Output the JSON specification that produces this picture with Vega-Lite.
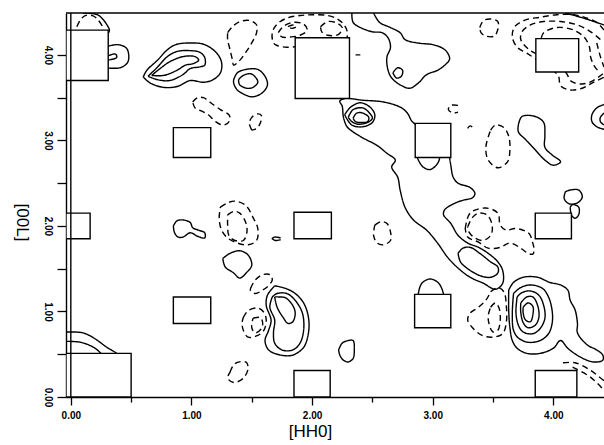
{
"$schema": "https://vega.github.io/schema/vega-lite/v6.json",
"width": 538, "height": 384,
"autosize": {"type": "none"},
"padding": {"left": 66, "top": 13, "right": 0, "bottom": 48},
"background": "white",
"config": {"view": {"stroke": null}},
"datasets": {
"boxes": [
{"x":-0.04,"x2":0.50,"y":0,"y2":0.51},
{"x":-0.04,"x2":0.31,"y":3.70,"y2":4.29},
{"x":-0.04,"x2":0.16,"y":1.85,"y2":2.15},
{"x":0.85,"x2":1.16,"y":0.86,"y2":1.17},
{"x":0.85,"x2":1.16,"y":2.80,"y2":3.15},
{"x":1.86,"x2":2.31,"y":3.49,"y2":4.20},
{"x":1.85,"x2":2.16,"y":1.85,"y2":2.16},
{"x":1.85,"x2":2.15,"y":0,"y2":0.31},
{"x":2.855,"x2":3.15,"y":2.80,"y2":3.20},
{"x":2.85,"x2":3.15,"y":0.81,"y2":1.20},
{"x":3.855,"x2":4.21,"y":3.80,"y2":4.19},
{"x":3.85,"x2":4.15,"y":1.85,"y2":2.15},
{"x":3.85,"x2":4.195,"y":0,"y2":0.31}
],
"frame": [{"x": 0, "y": 4.49}],
"contours": [
{"c":1,"t":"d","x":0.05,"y":4.33},{"c":1,"t":"d","x":0.08,"y":4.41},{"c":1,"t":"d","x":0.12,"y":4.46},{"c":1,"t":"d","x":0.18,"y":4.46},{"c":1,"t":"d","x":0.22,"y":4.42},{"c":1,"t":"d","x":0.26,"y":4.34},
{"c":2,"t":"s","x":0.10,"y":4.49},{"c":2,"t":"s","x":0.22,"y":4.47},{"c":2,"t":"s","x":0.27,"y":4.41},{"c":2,"t":"s","x":0.30,"y":4.35},{"c":2,"t":"s","x":0.32,"y":4.29},{"c":2,"t":"s","x":0.31,"y":4.25},
{"c":3,"t":"s","x":0.28,"y":4.09},{"c":3,"t":"s","x":0.39,"y":4.12},{"c":3,"t":"s","x":0.46,"y":4.08},{"c":3,"t":"s","x":0.48,"y":4.00},{"c":3,"t":"s","x":0.47,"y":3.91},{"c":3,"t":"s","x":0.41,"y":3.85},{"c":3,"t":"s","x":0.28,"y":3.85},
{"c":4,"t":"s","x":0.31,"y":3.99},{"c":4,"t":"s","x":0.37,"y":4.01},{"c":4,"t":"s","x":0.38,"y":3.97},{"c":4,"t":"s","x":0.31,"y":3.94},
{"c":5,"t":"s","x":0.60,"y":3.74},{"c":5,"t":"s","x":0.63,"y":3.82},{"c":5,"t":"s","x":0.72,"y":3.94},{"c":5,"t":"s","x":0.80,"y":4.06},{"c":5,"t":"s","x":0.87,"y":4.12},{"c":5,"t":"s","x":0.99,"y":4.14},{"c":5,"t":"s","x":1.11,"y":4.12},{"c":5,"t":"s","x":1.21,"y":4.02},{"c":5,"t":"s","x":1.25,"y":3.91},{"c":5,"t":"s","x":1.24,"y":3.79},{"c":5,"t":"s","x":1.18,"y":3.71},{"c":5,"t":"s","x":1.10,"y":3.68},{"c":5,"t":"s","x":0.99,"y":3.70},{"c":5,"t":"s","x":0.88,"y":3.63},{"c":5,"t":"s","x":0.77,"y":3.62},{"c":5,"t":"s","x":0.66,"y":3.67},{"c":5,"t":"s","x":0.60,"y":3.74},
{"c":6,"t":"s","x":0.64,"y":3.75},{"c":6,"t":"s","x":0.72,"y":3.86},{"c":6,"t":"s","x":0.80,"y":3.98},{"c":6,"t":"s","x":0.88,"y":4.04},{"c":6,"t":"s","x":0.99,"y":4.05},{"c":6,"t":"s","x":1.07,"y":4.03},{"c":6,"t":"s","x":1.11,"y":3.97},{"c":6,"t":"s","x":1.11,"y":3.88},{"c":6,"t":"s","x":1.07,"y":3.86},{"c":6,"t":"s","x":0.99,"y":3.84},{"c":6,"t":"s","x":0.93,"y":3.77},{"c":6,"t":"s","x":0.82,"y":3.70},{"c":6,"t":"s","x":0.72,"y":3.71},{"c":6,"t":"s","x":0.64,"y":3.75},
{"c":7,"t":"s","x":0.67,"y":3.76},{"c":7,"t":"s","x":0.74,"y":3.84},{"c":7,"t":"s","x":0.82,"y":3.92},{"c":7,"t":"s","x":0.93,"y":3.98},{"c":7,"t":"s","x":1.03,"y":3.98},{"c":7,"t":"s","x":1.06,"y":3.94},{"c":7,"t":"s","x":1.02,"y":3.90},{"c":7,"t":"s","x":0.95,"y":3.88},{"c":7,"t":"s","x":0.88,"y":3.82},{"c":7,"t":"s","x":0.77,"y":3.76},{"c":7,"t":"s","x":0.67,"y":3.76},
{"c":8,"t":"s","x":1.35,"y":3.71},{"c":8,"t":"s","x":1.38,"y":3.79},{"c":8,"t":"s","x":1.45,"y":3.83},{"c":8,"t":"s","x":1.55,"y":3.83},{"c":8,"t":"s","x":1.61,"y":3.75},{"c":8,"t":"s","x":1.63,"y":3.65},{"c":8,"t":"s","x":1.59,"y":3.56},{"c":8,"t":"s","x":1.51,"y":3.51},{"c":8,"t":"s","x":1.45,"y":3.53},{"c":8,"t":"s","x":1.38,"y":3.59},{"c":8,"t":"s","x":1.35,"y":3.67},{"c":8,"t":"s","x":1.35,"y":3.71},
{"c":9,"t":"s","x":1.39,"y":3.71},{"c":9,"t":"s","x":1.43,"y":3.76},{"c":9,"t":"s","x":1.49,"y":3.78},{"c":9,"t":"s","x":1.53,"y":3.74},{"c":9,"t":"s","x":1.55,"y":3.68},{"c":9,"t":"s","x":1.51,"y":3.62},{"c":9,"t":"s","x":1.46,"y":3.61},{"c":9,"t":"s","x":1.40,"y":3.65},{"c":9,"t":"s","x":1.39,"y":3.71},
{"c":10,"t":"d","x":1.30,"y":4.26},{"c":10,"t":"d","x":1.34,"y":4.33},{"c":10,"t":"d","x":1.40,"y":4.39},{"c":10,"t":"d","x":1.49,"y":4.40},{"c":10,"t":"d","x":1.54,"y":4.35},{"c":10,"t":"d","x":1.54,"y":4.26},{"c":10,"t":"d","x":1.50,"y":4.14},{"c":10,"t":"d","x":1.45,"y":4.03},{"c":10,"t":"d","x":1.39,"y":3.92},{"c":10,"t":"d","x":1.35,"y":3.88},{"c":10,"t":"d","x":1.34,"y":3.94},{"c":10,"t":"d","x":1.32,"y":4.06},{"c":10,"t":"d","x":1.30,"y":4.18},{"c":10,"t":"d","x":1.30,"y":4.26},
{"c":11,"t":"d","x":1.01,"y":3.45},{"c":11,"t":"d","x":1.05,"y":3.50},{"c":11,"t":"d","x":1.10,"y":3.50},{"c":11,"t":"d","x":1.16,"y":3.44},{"c":11,"t":"d","x":1.24,"y":3.36},{"c":11,"t":"d","x":1.31,"y":3.30},{"c":11,"t":"d","x":1.32,"y":3.26},{"c":11,"t":"d","x":1.30,"y":3.20},{"c":11,"t":"d","x":1.26,"y":3.18},{"c":11,"t":"d","x":1.20,"y":3.22},{"c":11,"t":"d","x":1.14,"y":3.30},{"c":11,"t":"d","x":1.09,"y":3.34},{"c":11,"t":"d","x":1.03,"y":3.38},{"c":11,"t":"d","x":1.01,"y":3.45},
{"c":12,"t":"d","x":1.50,"y":3.12},{"c":12,"t":"d","x":1.48,"y":3.20},{"c":12,"t":"d","x":1.50,"y":3.27},{"c":12,"t":"d","x":1.55,"y":3.31},{"c":12,"t":"d","x":1.58,"y":3.29},{"c":12,"t":"d","x":1.57,"y":3.20},{"c":12,"t":"d","x":1.54,"y":3.14},{"c":12,"t":"d","x":1.50,"y":3.12},
{"c":13,"t":"d","x":1.89,"y":4.10},{"c":13,"t":"d","x":1.79,"y":4.09},{"c":13,"t":"d","x":1.71,"y":4.11},{"c":13,"t":"d","x":1.68,"y":4.14},{"c":13,"t":"d","x":1.67,"y":4.26},{"c":13,"t":"d","x":1.71,"y":4.36},{"c":13,"t":"d","x":1.79,"y":4.43},{"c":13,"t":"d","x":1.90,"y":4.46},{"c":13,"t":"d","x":2.01,"y":4.47},{"c":13,"t":"d","x":2.13,"y":4.46},{"c":13,"t":"d","x":2.21,"y":4.42},{"c":13,"t":"d","x":2.26,"y":4.36},{"c":13,"t":"d","x":2.29,"y":4.28},{"c":13,"t":"d","x":2.29,"y":4.18},
{"c":14,"t":"d","x":1.72,"y":4.26},{"c":14,"t":"d","x":1.76,"y":4.33},{"c":14,"t":"d","x":1.84,"y":4.38},{"c":14,"t":"d","x":1.93,"y":4.36},{"c":14,"t":"d","x":1.96,"y":4.29},{"c":14,"t":"d","x":1.90,"y":4.23},{"c":14,"t":"d","x":1.82,"y":4.21},{"c":14,"t":"d","x":1.75,"y":4.21},{"c":14,"t":"d","x":1.72,"y":4.26},
{"c":15,"t":"d","x":1.80,"y":4.33},{"c":15,"t":"d","x":1.84,"y":4.35},{"c":15,"t":"d","x":1.87,"y":4.33},{"c":15,"t":"d","x":1.83,"y":4.31},{"c":15,"t":"d","x":1.80,"y":4.33},
{"c":16,"t":"d","x":2.07,"y":4.33},{"c":16,"t":"d","x":2.13,"y":4.39},{"c":16,"t":"d","x":2.21,"y":4.37},{"c":16,"t":"d","x":2.25,"y":4.32},{"c":16,"t":"d","x":2.22,"y":4.24},{"c":16,"t":"d","x":2.13,"y":4.23},{"c":16,"t":"d","x":2.08,"y":4.27},{"c":16,"t":"d","x":2.07,"y":4.33},
{"c":17,"t":"s","x":2.36,"y":4.00},{"c":17,"t":"s","x":2.40,"y":4.00},
{"c":18,"t":"s","x":2.33,"y":4.49},{"c":18,"t":"s","x":2.34,"y":4.38},{"c":18,"t":"s","x":2.40,"y":4.32},{"c":18,"t":"s","x":2.50,"y":4.27},{"c":18,"t":"s","x":2.58,"y":4.26},{"c":18,"t":"s","x":2.63,"y":4.20},{"c":18,"t":"s","x":2.65,"y":4.09},{"c":18,"t":"s","x":2.62,"y":3.97},{"c":18,"t":"s","x":2.63,"y":3.82},{"c":18,"t":"s","x":2.66,"y":3.73},{"c":18,"t":"s","x":2.73,"y":3.65},{"c":18,"t":"s","x":2.81,"y":3.61},{"c":18,"t":"s","x":2.88,"y":3.67},{"c":18,"t":"s","x":2.95,"y":3.77},{"c":18,"t":"s","x":3.04,"y":3.82},{"c":18,"t":"s","x":3.10,"y":3.88},{"c":18,"t":"s","x":3.14,"y":3.95},{"c":18,"t":"s","x":3.12,"y":4.03},{"c":18,"t":"s","x":3.08,"y":4.08},{"c":18,"t":"s","x":3.00,"y":4.12},{"c":18,"t":"s","x":2.87,"y":4.14},{"c":18,"t":"s","x":2.77,"y":4.18},{"c":18,"t":"s","x":2.73,"y":4.26},{"c":18,"t":"s","x":2.65,"y":4.32},{"c":18,"t":"s","x":2.56,"y":4.38},{"c":18,"t":"s","x":2.51,"y":4.49},
{"c":19,"t":"s","x":2.67,"y":3.79},{"c":19,"t":"s","x":2.71,"y":3.85},{"c":19,"t":"s","x":2.75,"y":3.82},{"c":19,"t":"s","x":2.74,"y":3.75},{"c":19,"t":"s","x":2.70,"y":3.73},{"c":19,"t":"s","x":2.67,"y":3.79},
{"c":20,"t":"d","x":3.39,"y":4.32},{"c":20,"t":"d","x":3.42,"y":4.40},{"c":20,"t":"d","x":3.48,"y":4.42},{"c":20,"t":"d","x":3.54,"y":4.39},{"c":20,"t":"d","x":3.54,"y":4.30},{"c":20,"t":"d","x":3.51,"y":4.22},{"c":20,"t":"d","x":3.44,"y":4.22},{"c":20,"t":"d","x":3.40,"y":4.26},{"c":20,"t":"d","x":3.39,"y":4.32},
{"c":21,"t":"d","x":4.42,"y":4.29},{"c":21,"t":"d","x":4.36,"y":4.38},{"c":21,"t":"d","x":4.28,"y":4.43},{"c":21,"t":"d","x":4.17,"y":4.47},{"c":21,"t":"d","x":4.03,"y":4.47},{"c":21,"t":"d","x":3.89,"y":4.44},{"c":21,"t":"d","x":3.77,"y":4.41},{"c":21,"t":"d","x":3.68,"y":4.33},{"c":21,"t":"d","x":3.66,"y":4.21},{"c":21,"t":"d","x":3.70,"y":4.09},{"c":21,"t":"d","x":3.78,"y":4.02},{"c":21,"t":"d","x":3.93,"y":3.88},{"c":21,"t":"d","x":4.04,"y":3.76},{"c":21,"t":"d","x":4.06,"y":3.64},{"c":21,"t":"d","x":4.14,"y":3.59},{"c":21,"t":"d","x":4.24,"y":3.61},{"c":21,"t":"d","x":4.32,"y":3.67},{"c":21,"t":"d","x":4.42,"y":3.74},
{"c":22,"t":"d","x":4.39,"y":4.18},{"c":22,"t":"d","x":4.31,"y":4.27},{"c":22,"t":"d","x":4.20,"y":4.35},{"c":22,"t":"d","x":4.06,"y":4.39},{"c":22,"t":"d","x":3.92,"y":4.39},{"c":22,"t":"d","x":3.81,"y":4.35},{"c":22,"t":"d","x":3.74,"y":4.27},{"c":22,"t":"d","x":3.73,"y":4.18},{"c":22,"t":"d","x":3.80,"y":4.06},{"c":22,"t":"d","x":3.95,"y":3.95},{"c":22,"t":"d","x":4.10,"y":3.80},{"c":22,"t":"d","x":4.15,"y":3.69},{"c":22,"t":"d","x":4.24,"y":3.66},{"c":22,"t":"d","x":4.33,"y":3.70},{"c":22,"t":"d","x":4.42,"y":3.79},
{"c":23,"t":"d","x":3.90,"y":4.20},{"c":23,"t":"d","x":3.92,"y":4.26},{"c":23,"t":"d","x":4.03,"y":4.32},{"c":23,"t":"d","x":4.17,"y":4.29},{"c":23,"t":"d","x":4.26,"y":4.20},{"c":23,"t":"d","x":4.30,"y":4.09},{"c":23,"t":"d","x":4.31,"y":3.97},{"c":23,"t":"d","x":4.34,"y":3.87},{"c":23,"t":"d","x":4.38,"y":3.80},
{"c":24,"t":"d","x":4.36,"y":4.14},{"c":24,"t":"d","x":4.39,"y":3.98},{"c":24,"t":"d","x":4.42,"y":3.86},
{"c":25,"t":"s","x":4.10,"y":4.49},{"c":25,"t":"s","x":4.25,"y":4.43},{"c":25,"t":"s","x":4.42,"y":4.35},
{"c":26,"t":"s","x":4.42,"y":3.42},{"c":26,"t":"s","x":4.36,"y":3.38},{"c":26,"t":"s","x":4.32,"y":3.30},{"c":26,"t":"s","x":4.32,"y":3.22},{"c":26,"t":"s","x":4.36,"y":3.16},{"c":26,"t":"s","x":4.42,"y":3.13},
{"c":27,"t":"s","x":4.42,"y":3.32},{"c":27,"t":"s","x":4.39,"y":3.27},{"c":27,"t":"s","x":4.39,"y":3.22},{"c":27,"t":"s","x":4.42,"y":3.18},
{"c":28,"t":"d","x":3.21,"y":3.41},{"c":28,"t":"d","x":3.15,"y":3.41},{"c":28,"t":"d","x":3.13,"y":3.36},{"c":28,"t":"d","x":3.17,"y":3.32},{"c":28,"t":"d","x":3.21,"y":3.33},
{"c":29,"t":"d","x":3.29,"y":3.14},{"c":29,"t":"d","x":3.31,"y":3.17},{"c":29,"t":"d","x":3.34,"y":3.14},
{"c":30,"t":"d","x":3.48,"y":3.12},{"c":30,"t":"d","x":3.52,"y":3.18},{"c":30,"t":"d","x":3.59,"y":3.15},{"c":30,"t":"d","x":3.63,"y":3.05},{"c":30,"t":"d","x":3.64,"y":2.89},{"c":30,"t":"d","x":3.62,"y":2.75},{"c":30,"t":"d","x":3.54,"y":2.68},{"c":30,"t":"d","x":3.46,"y":2.77},{"c":30,"t":"d","x":3.44,"y":2.91},{"c":30,"t":"d","x":3.46,"y":3.04},{"c":30,"t":"d","x":3.48,"y":3.12},
{"c":31,"t":"s","x":3.71,"y":3.18},{"c":31,"t":"s","x":3.74,"y":3.28},{"c":31,"t":"s","x":3.85,"y":3.28},{"c":31,"t":"s","x":3.92,"y":3.21},{"c":31,"t":"s","x":3.93,"y":3.06},{"c":31,"t":"s","x":3.93,"y":2.92},{"c":31,"t":"s","x":3.99,"y":2.83},{"c":31,"t":"s","x":4.06,"y":2.75},{"c":31,"t":"s","x":4.00,"y":2.71},{"c":31,"t":"s","x":3.93,"y":2.77},{"c":31,"t":"s","x":3.85,"y":2.89},{"c":31,"t":"s","x":3.77,"y":3.01},{"c":31,"t":"s","x":3.71,"y":3.10},{"c":31,"t":"s","x":3.71,"y":3.18},
{"c":32,"t":"s","x":4.10,"y":2.40},{"c":32,"t":"s","x":4.14,"y":2.42},{"c":32,"t":"s","x":4.21,"y":2.42},{"c":32,"t":"s","x":4.24,"y":2.34},{"c":32,"t":"s","x":4.20,"y":2.27},{"c":32,"t":"s","x":4.13,"y":2.26},{"c":32,"t":"s","x":4.09,"y":2.32},{"c":32,"t":"s","x":4.10,"y":2.40},
{"c":33,"t":"s","x":4.14,"y":2.22},{"c":33,"t":"s","x":4.16,"y":2.25},{"c":33,"t":"s","x":4.21,"y":2.22},{"c":33,"t":"s","x":4.21,"y":2.13},{"c":33,"t":"s","x":4.18,"y":2.09},{"c":33,"t":"s","x":4.15,"y":2.13},{"c":33,"t":"s","x":4.14,"y":2.22},
{"c":34,"t":"s","x":2.90,"y":3.15},{"c":34,"t":"s","x":2.83,"y":3.22},{"c":34,"t":"s","x":2.79,"y":3.32},{"c":34,"t":"s","x":2.73,"y":3.39},{"c":34,"t":"s","x":2.59,"y":3.45},{"c":34,"t":"s","x":2.42,"y":3.47},{"c":34,"t":"s","x":2.27,"y":3.49},{"c":34,"t":"s","x":2.23,"y":3.46},{"c":34,"t":"s","x":2.25,"y":3.40},{"c":34,"t":"s","x":2.26,"y":3.27},{"c":34,"t":"s","x":2.29,"y":3.16},{"c":34,"t":"s","x":2.34,"y":3.10},{"c":34,"t":"s","x":2.42,"y":3.03},{"c":34,"t":"s","x":2.54,"y":2.94},{"c":34,"t":"s","x":2.62,"y":2.85},{"c":34,"t":"s","x":2.69,"y":2.77},{"c":34,"t":"s","x":2.66,"y":2.69},{"c":34,"t":"s","x":2.71,"y":2.57},{"c":34,"t":"s","x":2.73,"y":2.42},{"c":34,"t":"s","x":2.77,"y":2.22},{"c":34,"t":"s","x":2.84,"y":2.07},{"c":34,"t":"s","x":2.95,"y":1.95},{"c":34,"t":"s","x":3.04,"y":1.80},{"c":34,"t":"s","x":3.12,"y":1.64},{"c":34,"t":"s","x":3.20,"y":1.52},{"c":34,"t":"s","x":3.31,"y":1.40},{"c":34,"t":"s","x":3.42,"y":1.33},{"c":34,"t":"s","x":3.52,"y":1.26},{"c":34,"t":"s","x":3.58,"y":1.33},{"c":34,"t":"s","x":3.58,"y":1.48},{"c":34,"t":"s","x":3.54,"y":1.58},{"c":34,"t":"s","x":3.46,"y":1.68},{"c":34,"t":"s","x":3.38,"y":1.75},{"c":34,"t":"s","x":3.29,"y":1.80},{"c":34,"t":"s","x":3.21,"y":1.89},{"c":34,"t":"s","x":3.15,"y":2.03},{"c":34,"t":"s","x":3.09,"y":2.13},{"c":34,"t":"s","x":3.10,"y":2.19},{"c":34,"t":"s","x":3.19,"y":2.27},{"c":34,"t":"s","x":3.25,"y":2.30},{"c":34,"t":"s","x":3.33,"y":2.33},{"c":34,"t":"s","x":3.35,"y":2.38},{"c":34,"t":"s","x":3.31,"y":2.45},{"c":34,"t":"s","x":3.21,"y":2.50},{"c":34,"t":"s","x":3.17,"y":2.57},{"c":34,"t":"s","x":3.15,"y":2.71},{"c":34,"t":"s","x":3.13,"y":2.89},
{"c":35,"t":"s","x":2.27,"y":3.30},{"c":35,"t":"s","x":2.32,"y":3.39},{"c":35,"t":"s","x":2.40,"y":3.44},{"c":35,"t":"s","x":2.48,"y":3.39},{"c":35,"t":"s","x":2.52,"y":3.30},{"c":35,"t":"s","x":2.50,"y":3.21},{"c":35,"t":"s","x":2.42,"y":3.16},{"c":35,"t":"s","x":2.33,"y":3.18},{"c":35,"t":"s","x":2.27,"y":3.30},
{"c":36,"t":"s","x":2.30,"y":3.27},{"c":36,"t":"s","x":2.34,"y":3.36},{"c":36,"t":"s","x":2.42,"y":3.38},{"c":36,"t":"s","x":2.47,"y":3.33},{"c":36,"t":"s","x":2.50,"y":3.26},{"c":36,"t":"s","x":2.46,"y":3.21},{"c":36,"t":"s","x":2.38,"y":3.19},{"c":36,"t":"s","x":2.33,"y":3.22},{"c":36,"t":"s","x":2.30,"y":3.27},
{"c":37,"t":"s","x":2.34,"y":3.26},{"c":37,"t":"s","x":2.37,"y":3.32},{"c":37,"t":"s","x":2.42,"y":3.32},{"c":37,"t":"s","x":2.47,"y":3.27},{"c":37,"t":"s","x":2.46,"y":3.22},{"c":37,"t":"s","x":2.40,"y":3.21},{"c":37,"t":"s","x":2.36,"y":3.22},{"c":37,"t":"s","x":2.34,"y":3.26},
{"c":38,"t":"s","x":2.87,"y":2.85},{"c":38,"t":"s","x":2.87,"y":2.81},{"c":38,"t":"s","x":2.92,"y":2.69},{"c":38,"t":"s","x":2.98,"y":2.66},{"c":38,"t":"s","x":3.04,"y":2.73},{"c":38,"t":"s","x":3.06,"y":2.81},{"c":38,"t":"s","x":3.06,"y":2.85},
{"c":39,"t":"s","x":2.88,"y":1.15},{"c":39,"t":"s","x":2.88,"y":1.20},{"c":39,"t":"s","x":2.91,"y":1.33},{"c":39,"t":"s","x":2.98,"y":1.38},{"c":39,"t":"s","x":3.05,"y":1.33},{"c":39,"t":"s","x":3.09,"y":1.20},{"c":39,"t":"s","x":3.09,"y":1.15},
{"c":40,"t":"s","x":3.21,"y":1.68},{"c":40,"t":"s","x":3.25,"y":1.74},{"c":40,"t":"s","x":3.31,"y":1.75},{"c":40,"t":"s","x":3.39,"y":1.68},{"c":40,"t":"s","x":3.48,"y":1.58},{"c":40,"t":"s","x":3.54,"y":1.52},{"c":40,"t":"s","x":3.54,"y":1.45},{"c":40,"t":"s","x":3.48,"y":1.40},{"c":40,"t":"s","x":3.39,"y":1.42},{"c":40,"t":"s","x":3.29,"y":1.50},{"c":40,"t":"s","x":3.23,"y":1.58},{"c":40,"t":"s","x":3.21,"y":1.68},
{"c":41,"t":"d","x":3.27,"y":1.97},{"c":41,"t":"d","x":3.31,"y":2.15},{"c":41,"t":"d","x":3.44,"y":2.21},{"c":41,"t":"d","x":3.54,"y":2.15},{"c":41,"t":"d","x":3.56,"y":2.01},{"c":41,"t":"d","x":3.61,"y":1.95},{"c":41,"t":"d","x":3.68,"y":1.97},{"c":41,"t":"d","x":3.75,"y":1.95},{"c":41,"t":"d","x":3.80,"y":1.91},{"c":41,"t":"d","x":3.83,"y":1.80},{"c":41,"t":"d","x":3.84,"y":1.72},{"c":41,"t":"d","x":3.83,"y":1.67},{"c":41,"t":"d","x":3.79,"y":1.68},{"c":41,"t":"d","x":3.73,"y":1.74},{"c":41,"t":"d","x":3.64,"y":1.80},{"c":41,"t":"d","x":3.56,"y":1.75},{"c":41,"t":"d","x":3.46,"y":1.74},{"c":41,"t":"d","x":3.38,"y":1.81},{"c":41,"t":"d","x":3.29,"y":1.87},{"c":41,"t":"d","x":3.27,"y":1.97},
{"c":42,"t":"d","x":3.29,"y":1.99},{"c":42,"t":"d","x":3.33,"y":2.10},{"c":42,"t":"d","x":3.38,"y":2.15},{"c":42,"t":"d","x":3.45,"y":2.13},{"c":42,"t":"d","x":3.49,"y":2.03},{"c":42,"t":"d","x":3.49,"y":1.92},{"c":42,"t":"d","x":3.46,"y":1.86},{"c":42,"t":"d","x":3.41,"y":1.83},{"c":42,"t":"d","x":3.34,"y":1.87},{"c":42,"t":"d","x":3.30,"y":1.93},{"c":42,"t":"d","x":3.29,"y":1.99},
{"c":43,"t":"s","x":3.63,"y":1.25},{"c":43,"t":"s","x":3.67,"y":1.34},{"c":43,"t":"s","x":3.75,"y":1.40},{"c":43,"t":"s","x":3.87,"y":1.40},{"c":43,"t":"s","x":3.97,"y":1.34},{"c":43,"t":"s","x":4.06,"y":1.31},{"c":43,"t":"s","x":4.12,"y":1.25},{"c":43,"t":"s","x":4.14,"y":1.13},{"c":43,"t":"s","x":4.18,"y":1.02},{"c":43,"t":"s","x":4.20,"y":0.86},{"c":43,"t":"s","x":4.20,"y":0.75},{"c":43,"t":"s","x":4.28,"y":0.61},{"c":43,"t":"s","x":4.36,"y":0.55},{"c":43,"t":"s","x":4.41,"y":0.49},{"c":43,"t":"s","x":4.41,"y":0.43},{"c":43,"t":"s","x":4.33,"y":0.41},{"c":43,"t":"s","x":4.22,"y":0.47},{"c":43,"t":"s","x":4.12,"y":0.57},{"c":43,"t":"s","x":4.06,"y":0.66},{"c":43,"t":"s","x":4.00,"y":0.57},{"c":43,"t":"s","x":3.89,"y":0.51},{"c":43,"t":"s","x":3.78,"y":0.51},{"c":43,"t":"s","x":3.70,"y":0.57},{"c":43,"t":"s","x":3.66,"y":0.66},{"c":43,"t":"s","x":3.64,"y":0.81},{"c":43,"t":"s","x":3.63,"y":1.01},{"c":43,"t":"s","x":3.63,"y":1.25},
{"c":44,"t":"s","x":3.67,"y":1.21},{"c":44,"t":"s","x":3.73,"y":1.28},{"c":44,"t":"s","x":3.81,"y":1.31},{"c":44,"t":"s","x":3.91,"y":1.27},{"c":44,"t":"s","x":3.96,"y":1.17},{"c":44,"t":"s","x":3.99,"y":1.01},{"c":44,"t":"s","x":3.99,"y":0.86},{"c":44,"t":"s","x":3.96,"y":0.74},{"c":44,"t":"s","x":3.89,"y":0.66},{"c":44,"t":"s","x":3.79,"y":0.64},{"c":44,"t":"s","x":3.71,"y":0.69},{"c":44,"t":"s","x":3.67,"y":0.78},{"c":44,"t":"s","x":3.66,"y":0.98},{"c":44,"t":"s","x":3.67,"y":1.21},
{"c":45,"t":"s","x":3.70,"y":1.17},{"c":45,"t":"s","x":3.74,"y":1.22},{"c":45,"t":"s","x":3.81,"y":1.24},{"c":45,"t":"s","x":3.88,"y":1.19},{"c":45,"t":"s","x":3.92,"y":1.07},{"c":45,"t":"s","x":3.93,"y":0.92},{"c":45,"t":"s","x":3.89,"y":0.80},{"c":45,"t":"s","x":3.83,"y":0.74},{"c":45,"t":"s","x":3.75,"y":0.76},{"c":45,"t":"s","x":3.71,"y":0.84},{"c":45,"t":"s","x":3.69,"y":0.99},{"c":45,"t":"s","x":3.70,"y":1.17},
{"c":46,"t":"s","x":3.73,"y":1.10},{"c":46,"t":"s","x":3.78,"y":1.17},{"c":46,"t":"s","x":3.83,"y":1.17},{"c":46,"t":"s","x":3.87,"y":1.07},{"c":46,"t":"s","x":3.88,"y":0.93},{"c":46,"t":"s","x":3.85,"y":0.84},{"c":46,"t":"s","x":3.79,"y":0.81},{"c":46,"t":"s","x":3.75,"y":0.87},{"c":46,"t":"s","x":3.73,"y":0.99},{"c":46,"t":"s","x":3.73,"y":1.10},
{"c":47,"t":"s","x":3.75,"y":1.05},{"c":47,"t":"s","x":3.79,"y":1.10},{"c":47,"t":"s","x":3.83,"y":1.06},{"c":47,"t":"s","x":3.83,"y":0.96},{"c":47,"t":"s","x":3.81,"y":0.88},{"c":47,"t":"s","x":3.77,"y":0.90},{"c":47,"t":"s","x":3.75,"y":0.98},{"c":47,"t":"s","x":3.75,"y":1.05},
{"c":48,"t":"d","x":3.48,"y":1.23},{"c":48,"t":"d","x":3.54,"y":1.28},{"c":48,"t":"d","x":3.59,"y":1.23},{"c":48,"t":"d","x":3.61,"y":1.07},{"c":48,"t":"d","x":3.61,"y":0.87},{"c":48,"t":"d","x":3.58,"y":0.74},{"c":48,"t":"d","x":3.50,"y":0.70},{"c":48,"t":"d","x":3.41,"y":0.72},{"c":48,"t":"d","x":3.33,"y":0.81},{"c":48,"t":"d","x":3.29,"y":0.90},{"c":48,"t":"d","x":3.31,"y":0.98},{"c":48,"t":"d","x":3.38,"y":1.05},{"c":48,"t":"d","x":3.44,"y":1.13},{"c":48,"t":"d","x":3.48,"y":1.23},
{"c":49,"t":"d","x":3.48,"y":1.05},{"c":49,"t":"d","x":3.52,"y":1.10},{"c":49,"t":"d","x":3.55,"y":1.04},{"c":49,"t":"d","x":3.56,"y":0.90},{"c":49,"t":"d","x":3.54,"y":0.78},{"c":49,"t":"d","x":3.50,"y":0.76},{"c":49,"t":"d","x":3.47,"y":0.84},{"c":49,"t":"d","x":3.46,"y":0.95},{"c":49,"t":"d","x":3.48,"y":1.05},
{"c":50,"t":"d","x":4.08,"y":0.40},{"c":50,"t":"d","x":4.18,"y":0.40},{"c":50,"t":"d","x":4.31,"y":0.31},{"c":50,"t":"d","x":4.42,"y":0.19},
{"c":51,"t":"d","x":4.16,"y":0.35},{"c":51,"t":"d","x":4.31,"y":0.23},{"c":51,"t":"d","x":4.42,"y":0.08},
{"c":52,"t":"s","x":1.69,"y":1.30},{"c":52,"t":"s","x":1.63,"y":1.19},{"c":52,"t":"s","x":1.62,"y":1.07},{"c":52,"t":"s","x":1.66,"y":0.90},{"c":52,"t":"s","x":1.64,"y":0.78},{"c":52,"t":"s","x":1.61,"y":0.66},{"c":52,"t":"s","x":1.64,"y":0.55},{"c":52,"t":"s","x":1.74,"y":0.49},{"c":52,"t":"s","x":1.84,"y":0.49},{"c":52,"t":"s","x":1.93,"y":0.58},{"c":52,"t":"s","x":1.97,"y":0.75},{"c":52,"t":"s","x":1.97,"y":0.93},{"c":52,"t":"s","x":1.93,"y":1.10},{"c":52,"t":"s","x":1.86,"y":1.21},{"c":52,"t":"s","x":1.78,"y":1.27},{"c":52,"t":"s","x":1.69,"y":1.30},
{"c":53,"t":"s","x":1.67,"y":1.17},{"c":53,"t":"s","x":1.65,"y":1.05},{"c":53,"t":"s","x":1.69,"y":0.90},{"c":53,"t":"s","x":1.68,"y":0.75},{"c":53,"t":"s","x":1.69,"y":0.63},{"c":53,"t":"s","x":1.75,"y":0.55},{"c":53,"t":"s","x":1.84,"y":0.55},{"c":53,"t":"s","x":1.90,"y":0.63},{"c":53,"t":"s","x":1.93,"y":0.78},{"c":53,"t":"s","x":1.92,"y":0.98},{"c":53,"t":"s","x":1.86,"y":1.13},{"c":53,"t":"s","x":1.79,"y":1.21},{"c":53,"t":"s","x":1.71,"y":1.21},{"c":53,"t":"s","x":1.67,"y":1.17},
{"c":54,"t":"s","x":1.69,"y":1.17},{"c":54,"t":"s","x":1.71,"y":1.05},{"c":54,"t":"s","x":1.76,"y":0.93},{"c":54,"t":"s","x":1.80,"y":0.86},{"c":54,"t":"s","x":1.84,"y":0.88},{"c":54,"t":"s","x":1.86,"y":0.98},{"c":54,"t":"s","x":1.84,"y":1.07},{"c":54,"t":"s","x":1.78,"y":1.16},{"c":54,"t":"s","x":1.72,"y":1.17},{"c":54,"t":"s","x":1.69,"y":1.17},
{"c":55,"t":"d","x":1.43,"y":0.93},{"c":55,"t":"d","x":1.47,"y":1.01},{"c":55,"t":"d","x":1.55,"y":1.04},{"c":55,"t":"d","x":1.60,"y":0.99},{"c":55,"t":"d","x":1.62,"y":0.90},{"c":55,"t":"d","x":1.60,"y":0.78},{"c":55,"t":"d","x":1.55,"y":0.72},{"c":55,"t":"d","x":1.47,"y":0.70},{"c":55,"t":"d","x":1.43,"y":0.78},{"c":55,"t":"d","x":1.42,"y":0.87},{"c":55,"t":"d","x":1.43,"y":0.93},
{"c":56,"t":"d","x":1.51,"y":0.92},{"c":56,"t":"d","x":1.57,"y":0.93},{"c":56,"t":"d","x":1.59,"y":0.87},{"c":56,"t":"d","x":1.58,"y":0.80},{"c":56,"t":"d","x":1.53,"y":0.75},{"c":56,"t":"d","x":1.50,"y":0.81},{"c":56,"t":"d","x":1.51,"y":0.92},
{"c":57,"t":"d","x":1.49,"y":1.27},{"c":57,"t":"d","x":1.53,"y":1.37},{"c":57,"t":"d","x":1.59,"y":1.43},{"c":57,"t":"d","x":1.65,"y":1.43},{"c":57,"t":"d","x":1.67,"y":1.37},{"c":57,"t":"d","x":1.63,"y":1.29},{"c":57,"t":"d","x":1.59,"y":1.25},{"c":57,"t":"d","x":1.53,"y":1.21},{"c":57,"t":"d","x":1.49,"y":1.24},{"c":57,"t":"d","x":1.49,"y":1.27},
{"c":58,"t":"d","x":1.32,"y":0.29},{"c":58,"t":"d","x":1.36,"y":0.39},{"c":58,"t":"d","x":1.45,"y":0.41},{"c":58,"t":"d","x":1.47,"y":0.34},{"c":58,"t":"d","x":1.43,"y":0.22},{"c":58,"t":"d","x":1.35,"y":0.17},{"c":58,"t":"d","x":1.30,"y":0.22},{"c":58,"t":"d","x":1.32,"y":0.29},
{"c":59,"t":"s","x":2.22,"y":0.55},{"c":59,"t":"s","x":2.25,"y":0.63},{"c":59,"t":"s","x":2.30,"y":0.66},{"c":59,"t":"s","x":2.34,"y":0.66},{"c":59,"t":"s","x":2.35,"y":0.55},{"c":59,"t":"s","x":2.34,"y":0.45},{"c":59,"t":"s","x":2.30,"y":0.41},{"c":59,"t":"s","x":2.26,"y":0.43},{"c":59,"t":"s","x":2.23,"y":0.49},{"c":59,"t":"s","x":2.22,"y":0.55},
{"c":60,"t":"s","x":-0.04,"y":0.76},{"c":60,"t":"s","x":0.10,"y":0.75},{"c":60,"t":"s","x":0.19,"y":0.69},{"c":60,"t":"s","x":0.30,"y":0.58},{"c":60,"t":"s","x":0.38,"y":0.51},{"c":60,"t":"s","x":0.40,"y":0.48},
{"c":61,"t":"s","x":-0.04,"y":0.65},{"c":61,"t":"s","x":0.08,"y":0.64},{"c":61,"t":"s","x":0.19,"y":0.58},{"c":61,"t":"s","x":0.25,"y":0.51},{"c":61,"t":"s","x":0.27,"y":0.48},
{"c":62,"t":"d","x":1.24,"y":2.22},{"c":62,"t":"d","x":1.30,"y":2.27},{"c":62,"t":"d","x":1.36,"y":2.29},{"c":62,"t":"d","x":1.45,"y":2.24},{"c":62,"t":"d","x":1.51,"y":2.10},{"c":62,"t":"d","x":1.55,"y":1.97},{"c":62,"t":"d","x":1.54,"y":1.83},{"c":62,"t":"d","x":1.47,"y":1.78},{"c":62,"t":"d","x":1.38,"y":1.80},{"c":62,"t":"d","x":1.30,"y":1.86},{"c":62,"t":"d","x":1.25,"y":1.95},{"c":62,"t":"d","x":1.23,"y":2.09},{"c":62,"t":"d","x":1.24,"y":2.22},
{"c":63,"t":"d","x":1.30,"y":2.13},{"c":63,"t":"d","x":1.35,"y":2.17},{"c":63,"t":"d","x":1.40,"y":2.15},{"c":63,"t":"d","x":1.45,"y":2.04},{"c":63,"t":"d","x":1.46,"y":1.93},{"c":63,"t":"d","x":1.43,"y":1.83},{"c":63,"t":"d","x":1.36,"y":1.83},{"c":63,"t":"d","x":1.31,"y":1.89},{"c":63,"t":"d","x":1.30,"y":2.01},{"c":63,"t":"d","x":1.30,"y":2.13},
{"c":64,"t":"s","x":1.26,"y":1.62},{"c":64,"t":"s","x":1.32,"y":1.68},{"c":64,"t":"s","x":1.40,"y":1.71},{"c":64,"t":"s","x":1.47,"y":1.66},{"c":64,"t":"s","x":1.50,"y":1.54},{"c":64,"t":"s","x":1.46,"y":1.46},{"c":64,"t":"s","x":1.40,"y":1.39},{"c":64,"t":"s","x":1.35,"y":1.45},{"c":64,"t":"s","x":1.28,"y":1.52},{"c":64,"t":"s","x":1.26,"y":1.62},
{"c":65,"t":"s","x":1.74,"y":1.86},{"c":65,"t":"s","x":1.69,"y":1.87},{"c":65,"t":"s","x":1.67,"y":1.85},{"c":65,"t":"s","x":1.70,"y":1.83},{"c":65,"t":"s","x":1.74,"y":1.84},
{"c":66,"t":"d","x":2.52,"y":2.01},{"c":66,"t":"d","x":2.57,"y":2.05},{"c":66,"t":"d","x":2.62,"y":2.03},{"c":66,"t":"d","x":2.65,"y":1.93},{"c":66,"t":"d","x":2.65,"y":1.83},{"c":66,"t":"d","x":2.59,"y":1.78},{"c":66,"t":"d","x":2.54,"y":1.80},{"c":66,"t":"d","x":2.51,"y":1.89},{"c":66,"t":"d","x":2.52,"y":2.01},
{"c":67,"t":"s","x":0.85,"y":2.00},{"c":67,"t":"s","x":0.88,"y":2.06},{"c":67,"t":"s","x":0.93,"y":2.07},{"c":67,"t":"s","x":0.99,"y":2.04},{"c":67,"t":"s","x":1.01,"y":1.98},{"c":67,"t":"s","x":1.06,"y":1.95},{"c":67,"t":"s","x":1.11,"y":1.92},{"c":67,"t":"s","x":1.11,"y":1.86},{"c":67,"t":"s","x":1.05,"y":1.88},{"c":67,"t":"s","x":0.99,"y":1.92},{"c":67,"t":"s","x":0.93,"y":1.87},{"c":67,"t":"s","x":0.89,"y":1.87},{"c":67,"t":"s","x":0.86,"y":1.92},{"c":67,"t":"s","x":0.85,"y":2.00}
]
},
"layer": [
{
"data": {"name": "contours"},
"mark": {"type": "line", "color": "black", "strokeWidth": 1.4, "clip": true, "interpolate": "catmull-rom", "strokeJoin": "round"},
"encoding": {
"x": {"field": "x", "type": "quantitative", "scale": {"domain": [-0.04, 4.42], "nice": false, "zero": false},
"axis": {"title": "[HH0]", "values": [0,0.5,1,1.5,2,2.5,3,3.5,4], "labelExpr": "datum.value % 1 === 0 ? format(datum.value, '.2f') : ''",
"tickSize": {"condition": {"test": "datum.value % 1 === 0", "value": 8}, "value": 5},
"grid": false, "domainColor": "black", "domainWidth": 1.4, "tickColor": "black", "tickWidth": 1.3,
"labelFont": "Liberation Sans", "labelFontSize": 10, "labelColor": "black", "labelPadding": 5, "labelFontWeight": "bold",
"titleFont": "Liberation Sans", "titleFontSize": 17, "titleFontWeight": "normal", "titleColor": "black", "titleX": 244, "titlePadding": 3}},
"y": {"field": "y", "type": "quantitative", "scale": {"domain": [0, 4.49], "nice": false, "zero": false},
"axis": {"title": "[00L]", "values": [0,0.5,1,1.5,2,2.5,3,3.5,4], "labelExpr": "datum.value % 1 === 0 ? format(datum.value, '.2f') : ''",
"tickSize": 9,
"grid": false, "domainColor": "black", "domainWidth": 1.4, "tickColor": "black", "tickWidth": 1.3,
"labelFont": "Liberation Sans", "labelFontSize": 10, "labelColor": "black", "labelPadding": 5, "labelFontWeight": "bold",
"labelAngle": 90,
"titleFont": "Liberation Sans", "titleFontSize": 17, "titleFontWeight": "normal", "titleColor": "black", "titleAngle": 90, "titleX": -45, "titleY": 209, "titleBaseline": "middle", "titleAlign": "center"}},
"detail": {"field": "c", "type": "nominal"},
"strokeDash": {"field": "t", "type": "nominal", "scale": {"domain": ["s", "d"], "range": [[1, 0], [6, 4]]}, "legend": null},
"order": {"value": null}
}
},
{
"data": {"name": "boxes"},
"mark": {"type": "rect", "fill": "white", "stroke": "black", "strokeWidth": 1.4, "clip": true},
"encoding": {
"x": {"field": "x", "type": "quantitative"},
"x2": {"field": "x2"},
"y": {"field": "y", "type": "quantitative"},
"y2": {"field": "y2"}
}
},
{
"data": {"name": "frame"},
"mark": {"type": "rule", "color": "black", "strokeWidth": 1.4},
"encoding": {"x": {"field": "x", "type": "quantitative"}}
},
{
"data": {"name": "frame"},
"mark": {"type": "rule", "color": "black", "strokeWidth": 1.6},
"encoding": {"y": {"field": "y", "type": "quantitative"}}
}
]
}
